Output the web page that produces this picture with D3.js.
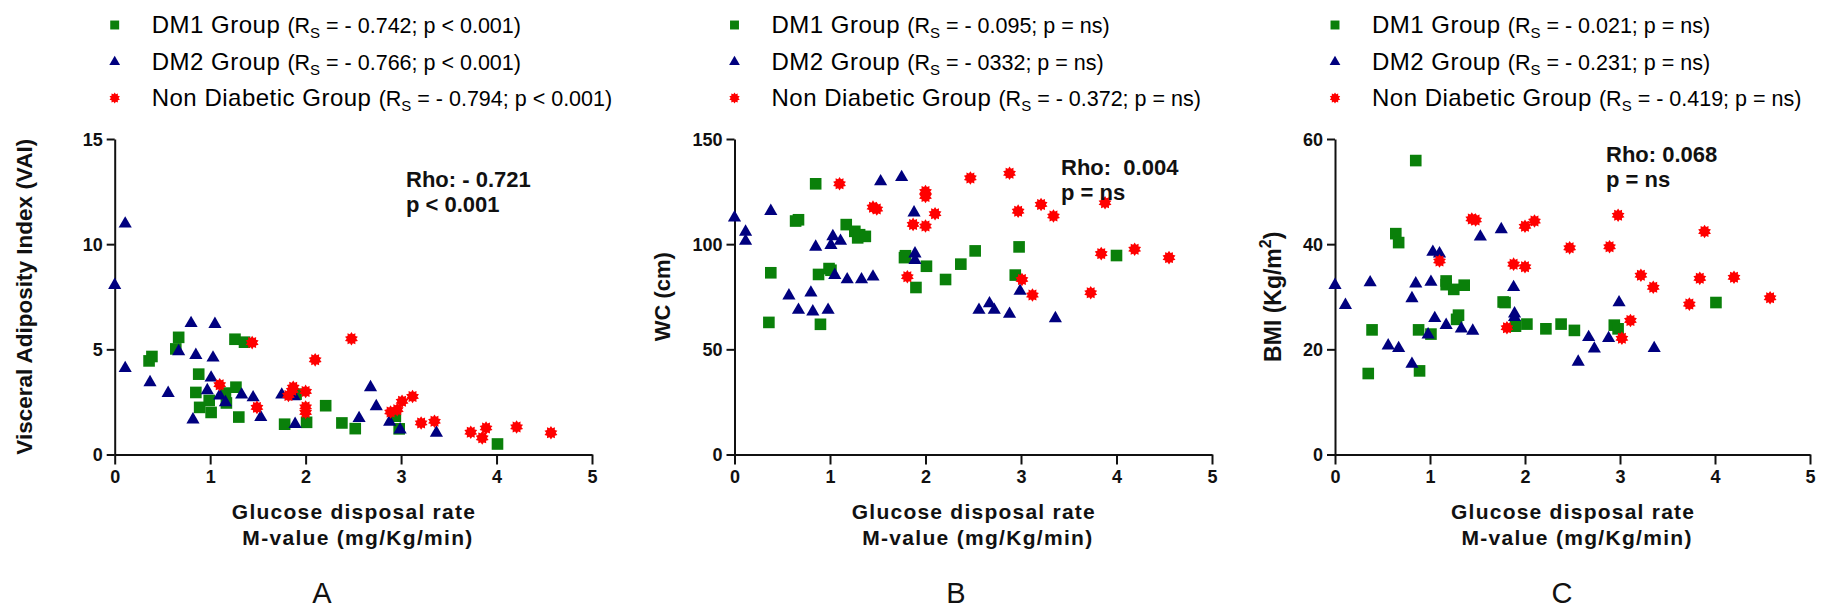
<!DOCTYPE html>
<html>
<head>
<meta charset="utf-8">
<script src="https://cdn.jsdelivr.net/npm/d3@7"></script>
<style>
  body { margin: 0; background: #fff; }
  svg text { font-family: "Liberation Sans", Arial, sans-serif; white-space: pre; }
</style>
</head>
<body>
<svg id="chart"></svg>
<script>
// Group names and Spearman stats shown in each legend
const groupNames = ["DM1 Group", "DM2 Group", "Non Diabetic Group"];
const statsA = ["= - 0.742; p < 0.001)", "= - 0.766; p < 0.001)", "= - 0.794; p < 0.001)"];
const statsB = ["= - 0.095; p = ns)", "= - 0332; p = ns)", "= - 0.372; p = ns)"];
const statsC = ["= - 0.021; p = ns)", "= - 0.231; p = ns)", "= - 0.419; p = ns)"];
const rhoA = ["Rho: - 0.721", "p < 0.001"];
const rhoB = ["Rho:  0.004", "p = ns"];
const rhoC = ["Rho: 0.068", "p = ns"];
const xTicks = [0, 1, 2, 3, 4, 5];
const ticksA = [0, 5, 10, 15];
const ticksB = [0, 50, 100, 150];
const ticksC = [0, 20, 40, 60];

// Panel A: VAI vs M-value  [M-value, VAI]
const vaiDM1 = [[0.36,4.45],[0.39,4.66],[0.64,5.02],[0.67,5.57],[0.85,2.95],[0.88,3.82],[0.89,2.24],[0.99,2.57],
  [1.01,2.0],[1.16,2.92],[1.17,2.45],[1.26,5.48],[1.27,3.2],[1.30,1.78],[1.36,5.34],[1.78,1.44],[1.90,2.87],
  [2.01,1.53],[2.21,2.32],[2.38,1.5],[2.52,1.23],[2.94,1.82],[2.98,1.22],[4.01,0.5]];
const vaiDM2 = [[0,8.05],[0.11,10.97],[0.11,4.1],[0.37,3.43],[0.56,2.92],[0.67,4.9],[0.80,6.24],[0.82,1.66],
  [0.85,4.72],[0.97,3.05],[1.01,3.65],[1.03,4.6],[1.05,6.2],[1.10,2.8],[1.16,2.48],[1.33,2.84],[1.45,2.71],
  [1.53,1.77],[1.75,2.84],[1.88,2.76],[1.89,1.44],[2.56,1.72],[2.68,3.19],[2.74,2.29],[2.88,1.55],[2.99,1.18],[3.37,1.03]];
const vaiND = [[1.10,3.32],[1.44,5.32],[1.49,2.24],[1.82,2.81],[1.86,3.05],[1.87,3.2],[2.0,3.0],[2.0,2.26],
  [2.0,2.0],[2.10,4.5],[2.48,5.5],[2.89,2.02],[2.96,2.13],[3.01,2.53],[3.12,2.76],[3.21,1.5],[3.35,1.58],
  [3.73,1.06],[3.85,0.79],[3.89,1.26],[4.21,1.31],[4.57,1.03]];

// Panel B: WC (cm) vs M-value
const wcDM1 = [[0.36,62.8],[0.38,86.4],[0.64,111.0],[0.67,111.6],[0.85,128.7],[0.88,85.6],[0.90,61.9],[0.99,88.4],
  [1.01,87.6],[1.17,109.3],[1.26,106.1],[1.29,103],[1.31,104.5],[1.37,103.7],[1.78,93.6],[1.79,94.5],[1.90,79.4],
  [2.01,89.5],[2.21,83.2],[2.37,90.5],[2.52,96.8],[2.94,85.3],[2.98,98.7],[4.00,94.6]];
const wcDM2 = [[0,112.6],[0.116,105.8],[0.116,101.5],[0.38,115.7],[0.57,75.5],[0.67,68.7],[0.80,76.9],[0.82,67.9],
  [0.85,98.7],[0.98,68.7],[1.01,99.5],[1.03,103.7],[1.05,85.3],[1.11,101.5],[1.18,83.2],[1.33,83.2],[1.45,84.5],
  [1.53,129.8],[1.75,131.8],[1.88,115],[1.89,95.5],[1.89,92.4],[2.56,68.7],[2.67,71.8],[2.72,68.7],[2.88,66.8],
  [2.99,77.7],[3.36,64.7]];
const wcND = [[1.10,128.7],[1.45,117.6],[1.49,116.7],[1.81,84.5],[1.87,109.4],[2.0,125],[2.0,122.7],[2.0,108.6],
  [2.10,114.5],[2.47,131.5],[2.88,133.7],[2.97,115.7],[3.01,83.2],[3.12,75.8],[3.21,118.9],[3.34,113.4],
  [3.73,76.9],[3.84,95.5],[3.88,119.7],[4.19,97.6],[4.55,93.6]];

// Panel C: BMI vs M-value
const bmiDM1 = [[0.35,15.4],[0.39,23.7],[0.64,42.0],[0.67,40.3],[0.85,55.9],[0.88,23.7],[0.89,15.9],[1.01,22.9],
  [1.17,33.0],[1.17,32.3],[1.25,31.4],[1.28,25.7],[1.30,26.5],[1.36,32.2],[1.77,29.0],[1.79,28.9],[1.90,24.4],
  [2.02,24.8],[2.22,23.9],[2.38,24.8],[2.52,23.6],[2.94,24.6],[2.98,23.9],[4.01,28.9]];
const bmiDM2 = [[0,32.2],[0.11,28.4],[0.37,32.7],[0.56,20.7],[0.67,20.2],[0.81,29.7],[0.81,17.2],[0.85,32.5],
  [0.98,22.8],[1.01,32.8],[1.03,38.5],[1.05,25.9],[1.10,38.2],[1.17,24.6],[1.33,23.9],[1.45,23.5],[1.53,41.4],
  [1.75,42.8],[1.88,31.8],[1.89,26.8],[1.89,26.1],[2.56,17.6],[2.67,22.3],[2.73,20.1],[2.88,22.1],[2.99,28.9],[3.36,20.2]];
const bmiND = [[1.10,36.8],[1.44,44.8],[1.48,44.6],[1.81,24.1],[1.88,36.2],[2.0,43.4],[2.0,35.7],[2.10,44.4],
  [2.47,39.3],[2.89,39.5],[2.98,45.5],[3.02,22.1],[3.11,25.5],[3.22,34.1],[3.35,31.8],[3.73,28.6],[3.84,33.5],
  [3.89,42.4],[4.20,33.7],[4.58,29.8]];

const width = 1821, height = 609;
const plotTop = 139, plotBottom = 454.5;
const colors = ["#0a800a", "#00007f", "#ff0000"];

// spiky "burst" marker used for the non diabetic group
const symbolBurst = {
    draw(ctx, size) {
        const r = Math.sqrt(size), ri = r * 0.7, n = 10;
        for (let i = 0; i < 2 * n; i++) {
            const a = Math.PI * i / n, rr = i % 2 ? ri : r;
            if (i === 0) ctx.moveTo(rr * Math.sin(a), -rr * Math.cos(a));
            else ctx.lineTo(rr * Math.sin(a), -rr * Math.cos(a));
        }
        ctx.closePath();
    }
};
const shapes = [d3.symbolSquare, d3.symbolTriangle, symbolBurst];
const plotSizes = [135, 75, 46];
const legendSizes = [80, 50, 30];

const panels = [
    { letter: "A", x0: 114.7, x1: 592, yMax: 15, yTicks: ticksA, series: [vaiDM1, vaiDM2, vaiND],
      stats: statsA, rho: rhoA, rhoX: 406, rhoY: 187, titleX: 32, titleSize: 22.5, letterX: 322,
      title: "Visceral Adiposity Index (VAI)" },
    { letter: "B", x0: 734.5, x1: 1212, yMax: 150, yTicks: ticksB, series: [wcDM1, wcDM2, wcND],
      stats: statsB, rho: rhoB, rhoX: 1061, rhoY: 175, titleX: 670, titleSize: 22, letterX: 956,
      title: "WC (cm)" },
    { letter: "C", x0: 1335, x1: 1810, yMax: 60, yTicks: ticksC, series: [bmiDM1, bmiDM2, bmiND],
      stats: statsC, rho: rhoC, rhoX: 1606, rhoY: 162, titleX: 1281, titleSize: 23, letterX: 1562,
      title: null }
];

const svg = d3.select("#chart")
    .attr("width", width)
    .attr("height", height)
    .style("background", "#fff");

panels.forEach(function (p) {
    const g = svg.append("g");

    const xScale = d3.scaleLinear().domain([0, 5]).range([p.x0, p.x1]);
    const yScale = d3.scaleLinear().domain([0, p.yMax]).range([plotBottom, plotTop]);

    // Axes
    const xAxis = g.append("g")
        .attr("transform", "translate(0," + plotBottom + ")")
        .call(d3.axisBottom(xScale).tickValues(xTicks).tickFormat(d3.format("d"))
            .tickSize(10).tickSizeOuter(0).tickPadding(6));
    const yAxis = g.append("g")
        .attr("transform", "translate(" + p.x0 + ",0)")
        .call(d3.axisLeft(yScale).tickValues(p.yTicks).tickFormat(d3.format("d"))
            .tickSize(8).tickSizeOuter(0).tickPadding(4));

    [xAxis, yAxis].forEach(function (ax) {
        ax.selectAll("path, line").attr("stroke", "#111").attr("stroke-width", 2);
        ax.selectAll("text")
            .attr("fill", "#111")
            .style("font-size", "18px")
            .style("font-weight", "bold");
    });
    yAxis.selectAll("text").attr("dy", "0.36em");

    // Points, drawn group by group
    p.series.forEach(function (pts, i) {
        g.append("g").selectAll("path")
            .data(pts)
            .enter()
            .append("path")
            .attr("transform", d => "translate(" + xScale(d[0]) + "," + yScale(d[1]) + ")")
            .attr("d", d3.symbol().type(shapes[i]).size(plotSizes[i]))
            .attr("fill", colors[i]);
    });

    // Legend above each panel
    const rowMarkY = [25, 62, 98];
    const legend = g.append("g");
    groupNames.forEach(function (name, i) {
        legend.append("path")
            .attr("transform", "translate(" + p.x0 + "," + rowMarkY[i] + ")")
            .attr("d", d3.symbol().type(shapes[i]).size(legendSizes[i]))
            .attr("fill", colors[i]);
        const t = legend.append("text")
            .attr("x", p.x0 + 37)
            .attr("y", rowMarkY[i] + 7.5)
            .attr("fill", "#000");
        t.append("tspan").style("font-size", "24px").style("letter-spacing", "0.5px").text(name + " ");
        t.append("tspan").style("font-size", "21.5px").text("(R");
        t.append("tspan").style("font-size", "15px").attr("dy", 5).text("S");
        t.append("tspan").style("font-size", "21.5px").attr("dy", -5).text(" " + p.stats[i]);
    });

    // Overall Rho annotation
    p.rho.forEach(function (line, i) {
        g.append("text")
            .attr("x", p.rhoX)
            .attr("y", p.rhoY + i * 25)
            .style("font-size", "22px")
            .style("font-weight", "bold")
            .attr("fill", "#111")
            .text(line);
    });

    // Y axis title
    const yt = g.append("text")
        .attr("transform", "translate(" + p.titleX + "," + ((plotTop + plotBottom) / 2) + ") rotate(-90)")
        .attr("text-anchor", "middle")
        .style("font-size", p.titleSize + "px")
        .style("font-weight", "bold")
        .attr("fill", "#111");
    if (p.title) {
        yt.text(p.title);
    } else {
        yt.append("tspan").text("BMI (Kg/m");
        yt.append("tspan").style("font-size", "16px").attr("dy", -10).text("2");
        yt.append("tspan").attr("dy", 10).text(")");
    }

    // X axis title (two lines)
    const cx = (p.x0 + p.x1) / 2;
    g.append("text")
        .attr("x", cx)
        .attr("y", 519)
        .attr("text-anchor", "middle")
        .attr("textLength", 243)
        .attr("lengthAdjust", "spacing")
        .style("font-size", "21px")
        .style("font-weight", "bold")
        .attr("fill", "#111")
        .text("Glucose disposal rate");
    g.append("text")
        .attr("x", cx + 4)
        .attr("y", 545)
        .attr("text-anchor", "middle")
        .attr("textLength", 230)
        .attr("lengthAdjust", "spacing")
        .style("font-size", "21px")
        .style("font-weight", "bold")
        .attr("fill", "#111")
        .text("M-value (mg/Kg/min)");

    // Panel letter
    g.append("text")
        .attr("x", p.letterX)
        .attr("y", 603)
        .attr("text-anchor", "middle")
        .style("font-size", "29px")
        .attr("fill", "#111")
        .text(p.letter);
});
</script>
</body>
</html>
